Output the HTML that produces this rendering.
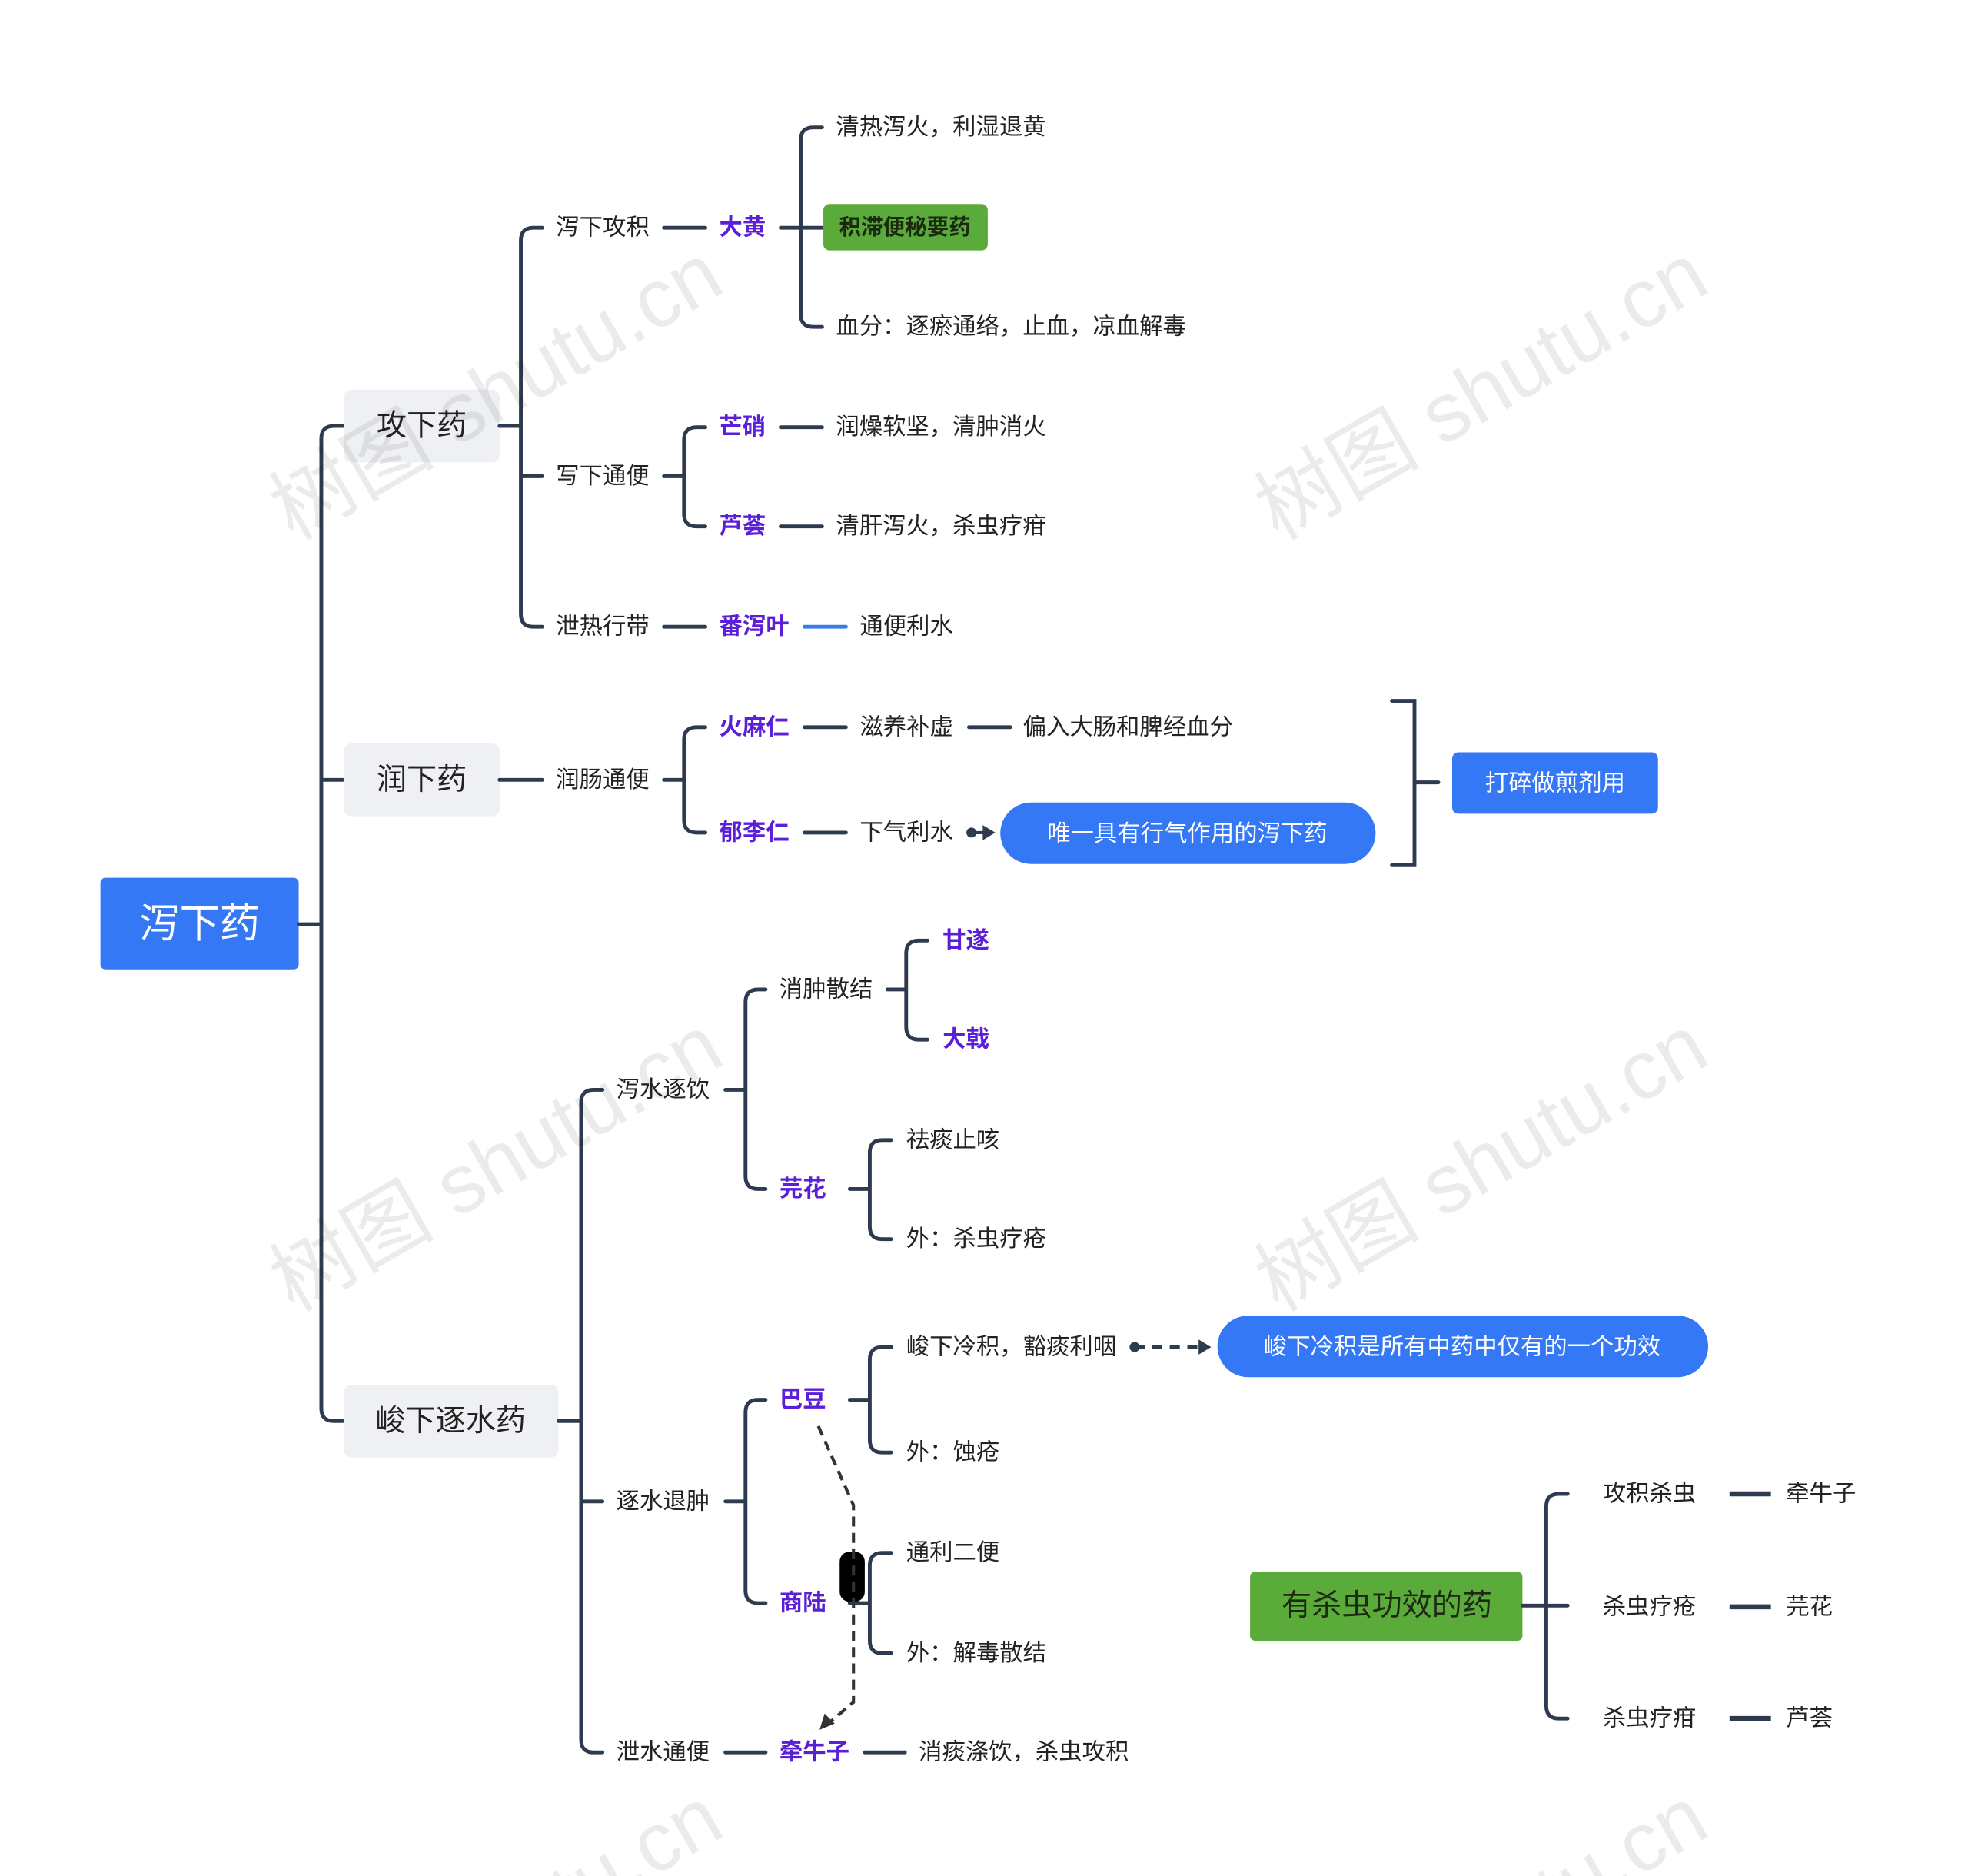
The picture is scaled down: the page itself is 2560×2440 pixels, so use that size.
<!DOCTYPE html>
<html><head><meta charset="utf-8"><style>
html,body{margin:0;padding:0;background:#fff;width:2560px;height:2440px;overflow:hidden;}
svg{display:block;}
text{font-family:"Liberation Sans","Noto Sans CJK SC",sans-serif;dominant-baseline:central;}
.t{font-size:18.6px;fill:#222;}
.b{font-size:18.6px;fill:#5a1fd6;font-weight:bold;}
.l1{font-size:24px;fill:#222;}
.c{fill:none;stroke:#2e3b4e;stroke-width:3;stroke-linecap:round;}
.wm{font-family:"Liberation Serif","Noto Serif CJK SC",serif;font-size:66px;fill:rgba(0,0,0,0.08);}
</style></head><body>
<svg width="2560" height="2440" viewBox="0 -1.5 1568 1495" preserveAspectRatio="none">
<!-- root -->
<rect x="80" y="698" width="158" height="73" rx="4" fill="#3478f6"/>
<text x="159" y="735" text-anchor="middle" style="font-size:32px;fill:#fff">泻下药</text>
<path class="c" d="M238 735H256"/>
<path class="c" d="M273 338H266Q256 338 256 348V1121Q256 1131 266 1131H273M256 620Q256 620 266 620H273"/>
<!-- level1 -->
<rect x="274" y="309" width="124" height="58" rx="6" fill="#eef0f3"/>
<text x="336" y="338" text-anchor="middle" class="l1">攻下药</text>
<rect x="274" y="591" width="124" height="58" rx="6" fill="#eef0f3"/>
<text x="336" y="620" text-anchor="middle" class="l1">润下药</text>
<rect x="274" y="1102" width="171" height="58" rx="6" fill="#eef0f3"/>
<text x="359" y="1131" text-anchor="middle" class="l1">峻下逐水药</text>

<!-- 攻下药 -->
<path class="c" d="M398 338H415M432 180H425Q415 180 415 190V488Q415 498 425 498H432M415 378H432"/>
<text x="443" y="180" class="t">泻下攻积</text>
<text x="443" y="378" class="t">写下通便</text>
<text x="443" y="498" class="t">泄热行带</text>
<path class="c" d="M529 180H562"/>
<text x="573" y="180" class="b">大黄</text>
<path class="c" d="M622 180H655M655 100H648Q638 100 638 110V249Q638 259 648 259H655"/>
<text x="666" y="100" class="t">清热泻火，利湿退黄</text>
<rect x="656" y="161" width="131" height="37" rx="5" fill="#5aab3a"/>
<text x="721" y="180" text-anchor="middle" style="font-size:17.5px;font-weight:bold;fill:#1a2a10">积滞便秘要药</text>
<text x="666" y="259" class="t">血分：逐瘀通络，止血，凉血解毒</text>
<path class="c" d="M529 378H545M562 339H555Q545 339 545 349V408Q545 418 555 418H562"/>
<text x="573" y="339" class="b">芒硝</text>
<text x="573" y="418" class="b">芦荟</text>
<path class="c" d="M622 339H655M622 418H655"/>
<text x="666" y="339" class="t">润燥软坚，清肿消火</text>
<text x="666" y="418" class="t">清肝泻火，杀虫疗疳</text>
<path class="c" d="M529 498H562"/>
<text x="573" y="498" class="b">番泻叶</text>
<path d="M641 498H674" stroke="#3a7be8" stroke-width="3" stroke-linecap="round"/>
<text x="685" y="498" class="t">通便利水</text>

<!-- 润下药 -->
<path class="c" d="M398 620H432"/>
<text x="443" y="620" class="t">润肠通便</text>
<path class="c" d="M529 620H545M562 578H555Q545 578 545 588V652Q545 662 555 662H562"/>
<text x="573" y="578" class="b">火麻仁</text>
<text x="573" y="662" class="b">郁李仁</text>
<path class="c" d="M641 578H674M641 662H674M772 578H805"/>
<text x="685" y="578" class="t">滋养补虚</text>
<text x="815" y="578" class="t">偏入大肠和脾经血分</text>
<text x="685" y="662" class="t">下气利水</text>
<circle cx="774" cy="662" r="4" fill="#2e3b4e"/>
<path d="M774 662H786" stroke="#2e3b4e" stroke-width="2.5"/>
<path d="M783 656L793 662L783 668Z" fill="#2e3b4e"/>
<rect x="797" y="638" width="299" height="49" rx="24.5" fill="#3478f6"/>
<text x="946" y="663" text-anchor="middle" style="font-size:18.6px;fill:#fff">唯一具有行气作用的泻下药</text>
<path class="c" d="M1109 557H1127V688H1109M1127 622H1146" stroke-linecap="butt"/>
<rect x="1157" y="598" width="164" height="49" rx="5" fill="#3478f6"/>
<text x="1239" y="623" text-anchor="middle" style="font-size:18.6px;fill:#fff">打碎做煎剂用</text>

<!-- 峻下逐水药 -->
<path class="c" d="M445 1131H463M480 867H473Q463 867 463 877V1385Q463 1395 473 1395H480M463 1195H480"/>
<text x="491" y="867" class="t">泻水逐饮</text>
<text x="491" y="1195" class="t">逐水退肿</text>
<text x="491" y="1395" class="t">泄水通便</text>
<path class="c" d="M578 867H594M610 787H604Q594 787 594 797V936Q594 946 604 946H610"/>
<text x="621" y="787" class="t">消肿散结</text>
<text x="621" y="946" class="b">芫花</text>
<path class="c" d="M707 787H722M739 748H732Q722 748 722 758V817Q722 827 732 827H739"/>
<text x="751" y="748" class="b">甘遂</text>
<text x="751" y="827" class="b">大戟</text>
<path class="c" d="M677 946H693M710 907H703Q693 907 693 917V976Q693 986 703 986H710"/>
<text x="722" y="907" class="t">祛痰止咳</text>
<text x="722" y="986" class="t">外：杀虫疗疮</text>
<path class="c" d="M578 1195H594M610 1114H604Q594 1114 594 1124V1266Q594 1276 604 1276H610"/>
<text x="621" y="1114" class="b">巴豆</text>
<text x="621" y="1276" class="b">商陆</text>
<path class="c" d="M677 1114H693M710 1072H703Q693 1072 693 1082V1146Q693 1156 703 1156H710"/>
<text x="722" y="1072" class="t">峻下冷积，豁痰利咽</text>
<text x="722" y="1156" class="t">外：蚀疮</text>
<circle cx="904" cy="1072" r="4" fill="#2e3b4e"/>
<path d="M904 1072H958" stroke="#2e3b4e" stroke-width="2.5" stroke-dasharray="8 6"/>
<path d="M955 1066L965 1072L955 1078Z" fill="#2e3b4e"/>
<rect x="970" y="1047" width="391" height="49" rx="24.5" fill="#3478f6"/>
<text x="1165" y="1072" text-anchor="middle" style="font-size:18.6px;fill:#fff">峻下冷积是所有中药中仅有的一个功效</text>
<path class="c" d="M677 1276H693M710 1236H703Q693 1236 693 1246V1306Q693 1316 703 1316H710"/>
<text x="722" y="1236" class="t">通利二便</text>
<text x="722" y="1316" class="t">外：解毒散结</text>
<rect x="669" y="1235" width="20" height="40" rx="8" fill="#000"/>
<path d="M652 1135L680 1198V1355L660 1372" fill="none" stroke="#333" stroke-width="2.5" stroke-dasharray="8 5"/>
<path d="M653 1377L657 1364L665 1372Z" fill="#333"/>
<path class="c" d="M578 1395H610"/>
<text x="621" y="1395" class="b">牵牛子</text>
<path class="c" d="M689 1395H721"/>
<text x="732" y="1395" class="t">消痰涤饮，杀虫攻积</text>

<!-- 杀虫 -->
<rect x="996" y="1251" width="217" height="55" rx="4" fill="#5aab3a"/>
<text x="1105" y="1278" text-anchor="middle" style="font-size:24px;fill:#1e2a16">有杀虫功效的药</text>
<path class="c" d="M1213 1278H1232M1249 1189H1242Q1232 1189 1232 1199V1358Q1232 1368 1242 1368H1249M1232 1278H1249"/>
<text x="1277" y="1189" class="t">攻积杀虫</text>
<text x="1277" y="1279" class="t">杀虫疗疮</text>
<text x="1277" y="1368" class="t">杀虫疗疳</text>
<path d="M1378 1189H1411M1378 1279H1411M1378 1368H1411" stroke="#2e3b4e" stroke-width="4"/>
<text x="1423" y="1189" class="t">牵牛子</text>
<text x="1423" y="1279" class="t">芫花</text>
<text x="1423" y="1368" class="t">芦荟</text>

<!-- watermarks -->
<g class="wm">
<text x="395" y="310" text-anchor="middle" transform="rotate(-30 395 310)">树图 shutu.cn</text>
<text x="1180" y="310" text-anchor="middle" transform="rotate(-30 1180 310)">树图 shutu.cn</text>
<text x="395" y="925" text-anchor="middle" transform="rotate(-30 395 925)">树图 shutu.cn</text>
<text x="1180" y="925" text-anchor="middle" transform="rotate(-30 1180 925)">树图 shutu.cn</text>
<text x="395" y="1540" text-anchor="middle" transform="rotate(-30 395 1540)">树图 shutu.cn</text>
<text x="1180" y="1540" text-anchor="middle" transform="rotate(-30 1180 1540)">树图 shutu.cn</text>
</g>
</svg>
</body></html>
